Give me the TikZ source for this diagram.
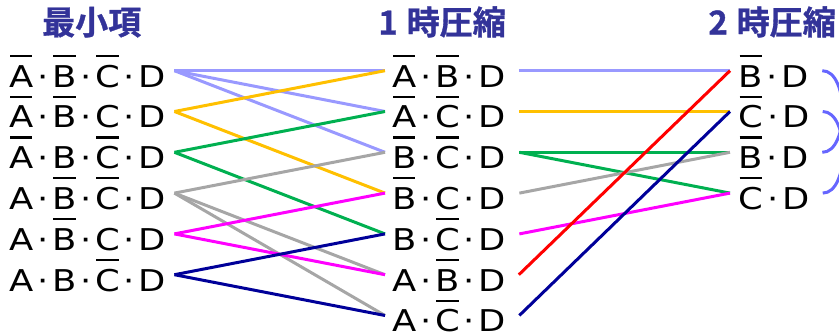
\documentclass[tikz,border=0pt]{standalone}
\usepackage{fontspec}
\newfontfamily\lat[FakeStretch=1.18]{DejaVu Sans}
\newfontfamily\jpb[FakeBold=1]{Noto Sans CJK JP Bold}
\definecolor{ttlblue}{RGB}{51,51,153}
\definecolor{clb}{RGB}{153,153,255}
\definecolor{cor}{RGB}{255,192,0}
\definecolor{cgr}{RGB}{0,176,80}
\definecolor{cgy}{RGB}{166,166,166}
\definecolor{cmg}{RGB}{255,0,255}
\definecolor{cnv}{RGB}{0,0,153}
\definecolor{crd}{RGB}{255,0,0}
\definecolor{carc}{RGB}{102,102,255}
\newcommand\dt{\kern3.8pt·\kern3.8pt}
\newcommand\ob[1]{\setbox0\hbox{#1}\rlap{\kern1pt\rule[30pt]{\dimexpr\wd0-2pt\relax}{2.2pt}}\box0}
\tikzset{
  term/.style={font=\lat\fontsize{30}{36}\selectfont, inner sep=0pt, anchor=base west},
  ttl/.style={font=\jpb\fontsize{33}{40}\selectfont, text=ttlblue, inner sep=0pt},
  ln/.style={line width=3pt}
}
\begin{document}
\begin{tikzpicture}[x=1pt,y=-1pt]
\useasboundingbox (0,0) rectangle (839,335);
% titles
\node[ttl, anchor=base west] (T0) at (42,34.5) {最小項};
\node[ttl, anchor=base east] (T1) at (506,34.5) {1\kern9pt時圧縮};
\node[ttl, anchor=base east] (T2) at (836,34.5) {2\kern9pt時圧縮};
% left column
\foreach \i/\t in {
  1/{\ob{A}\dt\ob{B}\dt\ob{C}\dt D},
  2/{\ob{A}\dt\ob{B}\dt C\dt D},
  3/{\ob{A}\dt B\dt\ob{C}\dt D},
  4/{A\dt\ob{B}\dt\ob{C}\dt D},
  5/{A\dt\ob{B}\dt C\dt D},
  6/{A\dt B\dt\ob{C}\dt D}}{
  \node[term] (L\i) at (9,{87+40.8*(\i-1)}) {\t};
  \coordinate (Lo\i) at ([shift={(8pt,16.3pt)}]L\i.base east);
}
% middle column
\foreach \i/\t in {
  1/{\ob{A}\dt\ob{B}\dt D},
  2/{\ob{A}\dt\ob{C}\dt D},
  3/{\ob{B}\dt\ob{C}\dt D},
  4/{\ob{B}\dt C\dt D},
  5/{B\dt\ob{C}\dt D},
  6/{A\dt\ob{B}\dt D},
  7/{A\dt\ob{C}\dt D}}{
  \node[term] (M\i) at (392,{87+40.8*(\i-1)}) {\t};
  \coordinate (Mi\i) at ([shift={(-7pt,16.3pt)}]M\i.base west);
  \coordinate (Mo\i) at ([shift={(13pt,16.3pt)}]M\i.base east);
}
% right column
\foreach \i/\t in {
  1/{\ob{B}\dt D},
  2/{\ob{C}\dt D},
  3/{\ob{B}\dt D},
  4/{\ob{C}\dt D}}{
  \node[term] (R\i) at (738.5,{87+40.8*(\i-1)}) {\t};
  \coordinate (Ri\i) at ([shift={(-8.5pt,16.3pt)}]R\i.base west);
  \coordinate (Ra\i) at ([shift={(13pt,16.3pt)}]R\i.base east);
}
% left -> middle
\foreach \a/\b/\c in {1/1/clb,1/2/clb,1/3/clb,2/1/cor,2/4/cor,3/2/cgr,3/5/cgr,
  4/3/cgy,4/6/cgy,4/7/cgy,5/4/cmg,5/6/cmg,6/5/cnv,6/7/cnv}{
  \draw[ln,\c] (Lo\a) -- (Mi\b);
}
% middle -> right
\foreach \a/\b/\c in {1/1/clb,2/2/cor,3/3/cgr,3/4/cgr,4/3/cgy,5/4/cmg,6/1/crd,7/2/cnv}{
  \draw[ln,\c] (Mo\a) -- (Ri\b);
}
% arcs
\begin{scope}
\clip (0,0) rectangle (839,335);
\draw[ln,carc] (Ra1) .. controls +(27,0) and +(27,0) .. (Ra3);
\draw[ln,carc] (Ra2) .. controls +(27,0) and +(27,0) .. (Ra4);
\end{scope}
\end{tikzpicture}
\end{document}
